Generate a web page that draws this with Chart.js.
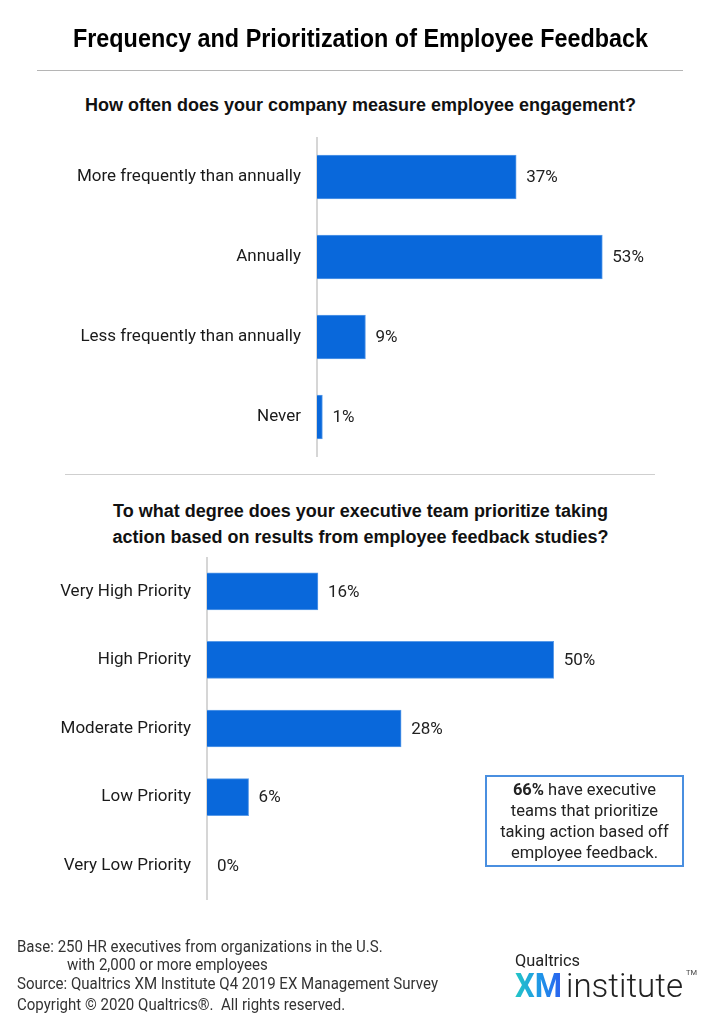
<!DOCTYPE html>
<html>
<head>
<meta charset="utf-8">
<script src="https://cdn.jsdelivr.net/npm/chart.js@4/dist/chart.umd.min.js"></script>
<style>
  html, body { margin:0; padding:0; background:#fff; }
  body { width:721px; height:1024px; position:relative; overflow:hidden; font-family: Roboto, "Liberation Sans", sans-serif; color:#1a1a1a; }
  .abs { position:absolute; white-space:nowrap; }
  .t { font-family:"Liberation Sans", Arial, sans-serif; font-weight:bold; color:#000; }
  .sub { left:0; width:721px; text-align:center; font-family:"Liberation Sans", Arial, sans-serif; font-weight:bold; font-size:18px; line-height:22px; color:#111; }
  .rule { position:absolute; height:1px; background:#b5b5b5; }
  .foot { font-family:Roboto, "Liberation Sans", sans-serif; font-size:16px; color:#333; line-height:19px; }
  #callout { left:485px; top:775px; width:199px; height:92px; border:2px solid #4a8fe0; box-sizing:border-box; text-align:center; font-size:16.5px; line-height:21px; color:#222; padding-top:2px; white-space:normal; }
</style>
</head>
<body>
<div id="title" class="abs t" style="font-size:25px; line-height:30px;">Frequency and Prioritization of Employee Feedback</div>
<div class="rule" style="left:37px; width:646px; top:70px;"></div>
<div class="abs sub" style="top:94px;">How often does your company measure employee engagement?</div>
<canvas id="c1" class="abs" style="left:0; top:137px;"></canvas>
<div class="rule" style="left:65px; width:590px; top:474px; background:#cfcfcf;"></div>
<div class="abs sub" style="top:500px;">To what degree does your executive team prioritize taking</div>
<div class="abs sub" style="top:526px;">action based on results from employee feedback studies?</div>
<canvas id="c2" class="abs" style="left:0; top:557px;"></canvas>
<div id="callout" class="abs"><b>66%</b> have executive<br>teams that prioritize<br>taking action based off<br>employee feedback.</div>
<div id="f1" class="abs foot">Base: 250 HR executives from organizations in the U.S.</div>
<div id="f2" class="abs foot">with 2,000 or more employees</div>
<div id="f3" class="abs foot">Source: Qualtrics XM Institute Q4 2019 EX Management Survey</div>
<div id="f4" class="abs foot">Copyright © 2020 Qualtrics®.&nbsp; All rights reserved.</div>
<div id="lq" class="abs" style="font-size:17px; line-height:20px; color:#222;">Qualtrics</div>
<div id="lxm" class="abs" style="font-size:34px; line-height:36px; font-weight:bold; background:linear-gradient(90deg,#22c6c6,#1f95e8 55%,#2a5ff0); -webkit-background-clip:text; background-clip:text; color:transparent;">XM</div>
<div id="lin" class="abs" style="font-size:34px; line-height:36px; font-weight:300; color:#222;">institute</div>
<div id="ltm" class="abs" style="font-size:8px; line-height:10px; color:#444;">TM</div>
<script>
const freqCategories = ["More frequently than annually", "Annually", "Less frequently than annually", "Never"];
const freqValues = [37, 53, 9, 1];
const prioCategories = ["Very High Priority", "High Priority", "Moderate Priority", "Low Priority", "Very Low Priority"];
const prioValues = [16, 50, 28, 6, 0];

const BAR_COLOR = "#0968db";
const BAR_EDGE = "#5a9be8";
const LABEL_FONT = "Roboto, 'Liberation Sans', sans-serif";

// text placement helper: stretch text horizontally to span [left,right], centered vertically at cy
function place(id, left, right, cy, scaleOverride) {
  const el = document.getElementById(id);
  const r = el.getBoundingClientRect();
  const s = scaleOverride || (right - left) / r.width;
  el.style.left = left + "px";
  el.style.top = (cy - r.height / 2) + "px";
  el.style.transformOrigin = "0 50%";
  el.style.transform = "scaleX(" + s + ")";
  return s;
}
place("title", 73, 648, 38);
const fs = place("f3", 17, 438, 983);
place("f1", 17, null, 946, fs);
place("f2", 67, null, 964, fs);
place("f4", 17, null, 1004, fs);
place("lq", 515, 580, 960);
place("lxm", 515, 562, 985);
place("lin", 566, 683, 985);
place("ltm", 686, 697, 973);

const valueLabels = {
  id: "valueLabels",
  afterDatasetsDraw(chart) {
    const ctx = chart.ctx;
    const meta = chart.getDatasetMeta(0);
    const data = chart.data.datasets[0].data;
    ctx.save();
    ctx.font = "17px " + LABEL_FONT;
    ctx.fillStyle = "#222";
    ctx.textBaseline = "middle";
    ctx.textAlign = "left";
    meta.data.forEach((bar, i) => {
      ctx.fillText(data[i] + "%", bar.x + 10, bar.y + 1);
    });
    ctx.restore();
  }
};

function makeChart(id, cats, vals, h, axisX, rightPad, thickness) {
  const cv = document.getElementById(id);
  cv.width = 721; cv.height = h;
  cv.style.width = "721px"; cv.style.height = h + "px";
  return new Chart(cv, {
    type: "bar",
    data: { labels: cats, datasets: [{ data: vals, backgroundColor: BAR_COLOR, borderColor: BAR_EDGE, borderWidth: 1, barThickness: thickness }] },
    options: {
      indexAxis: "y",
      responsive: false,
      animation: false,
      devicePixelRatio: 1,
      layout: { padding: { left: 0, right: rightPad, top: 0, bottom: 0 }, autoPadding: false },
      plugins: { legend: { display: false }, tooltip: { enabled: false } },
      scales: {
        x: { display: false, min: 0, max: 60 },
        y: {
          offset: true,
          grid: { display: false, drawTicks: false },
          border: { display: true, color: "#d6d6d6", width: 2 },
          ticks: { color: "#1a1a1a", padding: 16, font: { family: LABEL_FONT, size: 17 } },
          afterFit(scale) { scale.width = axisX; scale.paddingTop = 0; scale.paddingBottom = 0; }
        }
      }
    },
    plugins: [valueLabels]
  });
}

makeChart("c1", freqCategories, freqValues, 320, 317, 81, 44);
makeChart("c2", prioCategories, prioValues, 343, 207, 98, 37);
</script>
</body>
</html>
